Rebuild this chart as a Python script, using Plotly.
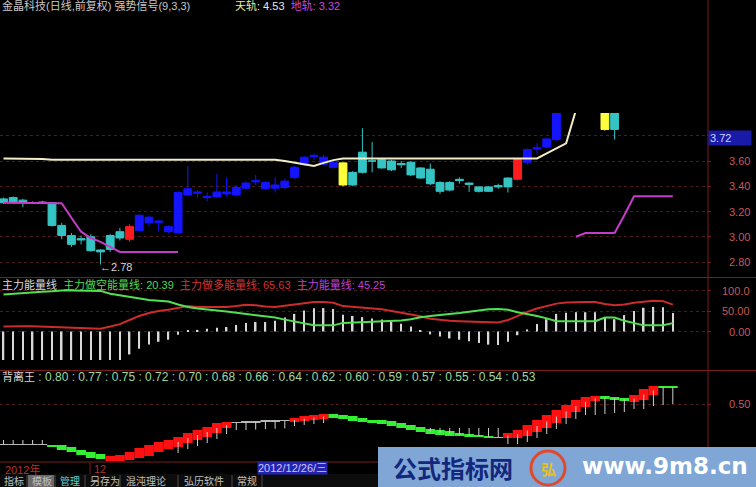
import plotly.graph_objects as go

# ---------------- DATA ----------------
bar_idx = list(range(70))

# Panel 1: candles (bars 0..63); None = not visible
candle_open = [3.30, 3.31, 3.29, 3.27, 3.275, 3.27, 3.09, 3.01, 2.985, 3.00,
               2.895, 2.90, 2.99, 2.98, 3.05, 3.155, 3.125, 3.08, 3.03, 3.33,
               3.355, 3.32, 3.315, 3.34, 3.33, 3.385, 3.445, 3.43, 3.385, 3.39,
               3.47, 3.57, 3.645, 3.63, 3.59, 3.585, 3.41, 3.51, 3.60, 3.61,
               3.60, 3.58, 3.59, 3.545, 3.535, 3.43, 3.37, 3.455, 3.425, 3.395,
               3.36, 3.405, 3.395, 3.455, 3.59, 3.705, 3.71, 3.77, None, None,
               None, None, 4.10, 3.85]
candle_close = [3.27, 3.27, 3.27, 3.27, 3.27, 3.09, 3.01, 2.94, 2.975, 2.89,
                2.88, 3.01, 3.04, 3.08, 3.17, 3.11, 3.115, 3.04, 3.35, 3.38,
                3.345, 3.31, 3.355, 3.355, 3.39, 3.425, 3.435, 3.38, 3.41, 3.44,
                3.55, 3.63, 3.635, 3.575, 3.55, 3.41, 3.51, 3.67, 3.60, 3.545,
                3.53, 3.57, 3.49, 3.465, 3.42, 3.36, 3.43, 3.445, 3.415, 3.36,
                3.395, 3.395, 3.465, 3.615, 3.69, 3.695, 3.775, 4.05, None, None,
                None, None, 3.85, 4.05]
candle_high = [3.31, 3.32, 3.30, 3.28, 3.285, 3.27, 3.11, 3.03, 3.01, 3.02,
               2.90, 3.02, 3.07, 3.10, 3.18, 3.17, 3.135, 3.09, 3.36, 3.56,
               3.37, 3.35, 3.50, 3.47, 3.41, 3.44, 3.49, 3.44, 3.47, 3.46,
               3.56, 3.64, 3.66, 3.65, 3.60, 3.59, 3.52, 3.86, 3.75, 3.62,
               3.61, 3.60, 3.60, 3.55, 3.58, 3.44, 3.44, 3.47, 3.43, 3.40,
               3.40, 3.42, 3.47, 3.62, 3.70, 3.74, 3.78, 4.08, None, None,
               None, None, 4.12, 4.08]
candle_low = [3.26, 3.26, 3.235, 3.26, 3.265, 3.08, 2.98, 2.92, 2.94, 2.88,
              2.78, 2.88, 2.97, 2.96, 3.04, 3.08, 3.04, 3.03, 3.02, 3.32,
              3.31, 3.28, 3.31, 3.32, 3.32, 3.37, 3.41, 3.37, 3.35, 3.38,
              3.46, 3.56, 3.61, 3.56, 3.54, 3.40, 3.40, 3.50, 3.51, 3.54,
              3.52, 3.545, 3.48, 3.46, 3.41, 3.34, 3.36, 3.42, 3.355, 3.35,
              3.355, 3.38, 3.35, 3.45, 3.57, 3.66, 3.70, 3.76, None, None,
              None, None, 3.84, 3.77]
candle_signal = (['teal'] * 13 + ['red'] + ['blue'] * 21 + ['yellow'] +
                 ['teal'] * 17 + ['red'] + ['blue'] * 4 + [None] * 4 +
                 ['yellow', 'teal'])

# 天轨 (upper rail) and 地轨 (lower rail)
upper_rail = [3.62, 3.62, 3.62, 3.62, 3.615, 3.61, 3.61, 3.61, 3.61, 3.61,
              3.61, 3.61, 3.61, 3.61, 3.61, 3.61, 3.61, 3.61, 3.61, 3.61,
              3.61, 3.61, 3.61, 3.61, 3.61, 3.61, 3.61, 3.61, 3.61, 3.60,
              3.587, 3.573, 3.56, 3.585, 3.607, 3.62, 3.62, 3.62, 3.62, 3.62,
              3.62, 3.62, 3.62, 3.62, 3.62, 3.62, 3.62, 3.62, 3.62, 3.62,
              3.62, 3.62, 3.62, 3.62, 3.62, 3.62, 3.66, 3.70, 3.74, 4.00,
              4.20, 4.30, 4.36, 4.40, 4.44, 4.47, 4.49, 4.51, 4.52, 4.53]
lower_rail = [3.27, 3.27, 3.27, 3.27, 3.27, 3.27, 3.265, 3.15, 3.04, 2.99,
              2.96, 2.92, 2.88, 2.88, 2.88, 2.88, 2.88, 2.88, 2.88] + [None] * 40 + \
             [3.00, 3.03, 3.03, 3.03, 3.03, 3.17, 3.32, 3.32, 3.32, 3.32, 3.32]
low_mark = 2.78
upper_last, lower_last = 4.53, 3.32
price_ticks = [2.80, 3.00, 3.20, 3.40, 3.60]
price_grid = [2.80, 3.00, 3.20, 3.40, 3.60, 3.80]
current_price = 3.72

# Panel 2: 主力能量
short_energy = [90, 92, 93, 95, 97, 98, 100, 100, 100, 100,
                99, 92, 88, 84, 80, 77, 75, 73, 66, 60,
                56, 53, 51, 49, 46, 44, 41, 38, 34, 29,
                24, 19, 15, 15, 15, 21, 22, 23, 25, 25,
                26, 27, 30, 35, 38, 40, 43, 45, 48, 51,
                54, 55, 53, 47, 43, 38, 32, 25, 25, 25,
                25, 25, 34, 34, 26, 20, 15, 15, 15, 20.39]
long_energy = [12, 13, 13, 13, 12, 11, 10, 9, 8, 7,
               7, 12, 18, 28, 38, 45, 50, 53, 58, 62,
               60, 60, 60, 60, 62, 65, 64, 61, 60, 63,
               67, 70, 72, 72, 70, 62, 60, 58, 57, 54,
               50, 46, 42, 37, 31, 28, 26, 25, 24, 23,
               22, 22, 28, 38, 48, 56, 62, 68, 71, 72,
               72, 72, 67, 64, 66, 70, 73, 75, 74, 65.63]
net_energy = [l - s for l, s in zip(long_energy, short_energy)]
energy_title_values = {"short": 20.39, "long": 65.63, "net": 45.25}
energy_ticks = [0, 50, 100]
energy_labels = ["0.00", "50.00", "100.0"]

# Panel 3: 背离王 ribbon (upper / lower edge) and signal
div_hi = [0.30, 0.30, 0.30, 0.30, 0.30, 0.295, 0.295, 0.285, 0.27, 0.26,
          0.25, 0.24, 0.245, 0.26, 0.28, 0.295, 0.31, 0.32, 0.335, 0.355,
          0.37, 0.385, 0.405, 0.41, 0.41, 0.412, 0.414, 0.416, 0.418, 0.42,
          0.43, 0.44, 0.445, 0.45, 0.45, 0.445, 0.44, 0.43, 0.42, 0.42,
          0.415, 0.405, 0.395, 0.385, 0.375, 0.37, 0.365, 0.355, 0.35, 0.345,
          0.34, 0.335, 0.355, 0.37, 0.395, 0.42, 0.445, 0.47, 0.495, 0.52,
          0.535, 0.54, 0.54, 0.535, 0.53, 0.545, 0.575, 0.59, 0.59, 0.59]
div_lo = [0.295, 0.295, 0.295, 0.295, 0.295, 0.285, 0.27, 0.26, 0.245, 0.23,
          0.225, 0.215, 0.215, 0.22, 0.23, 0.24, 0.26, 0.275, 0.285, 0.305,
          0.32, 0.335, 0.355, 0.38, 0.405, 0.407, 0.409, 0.411, 0.413, 0.415,
          0.41, 0.415, 0.42, 0.425, 0.43, 0.425, 0.415, 0.41, 0.405, 0.40,
          0.39, 0.38, 0.37, 0.36, 0.35, 0.345, 0.34, 0.34, 0.335, 0.335,
          0.3325, 0.33, 0.33, 0.33, 0.34, 0.36, 0.38, 0.405, 0.43, 0.46,
          0.485, 0.515, 0.525, 0.52, 0.515, 0.51, 0.52, 0.545, 0.58, 0.58]
div_state = (['flat'] * 5 + ['down'] * 6 + ['up'] * 13 + ['flat'] * 6 +
             ['up'] * 4 + ['down'] * 17 + ['flat'] + ['up'] * 10 +
             ['down'] * 3 + ['up'] * 3 + ['down'] * 2)
div_tick = [0.32, 0.32, 0.32, 0.32, 0.32, None, None, None, None, None,
            None, None, None, None, None, None, None, None, 0.255, 0.275,
            0.29, 0.305, 0.325, 0.35, 0.37, 0.37, 0.372, 0.374, 0.376, 0.378,
            0.39, 0.395, 0.40, 0.405, None, None, None, None, None, None,
            None, None, None, None, 0.38, 0.38, 0.38, 0.38, 0.38, 0.38,
            0.38, 0.38, 0.30, 0.30, 0.31, 0.33, 0.35, 0.375, 0.40, 0.425,
            0.445, 0.445, 0.45, 0.455, 0.46, 0.475, 0.475, 0.49, 0.495, 0.50]
div_ticks = [0.50]
div_title_values = [0.80, 0.77, 0.75, 0.72, 0.70, 0.68, 0.66, 0.64, 0.62,
                    0.60, 0.59, 0.57, 0.55, 0.54, 0.53]

tabs = ["指标", "模板", "管理", "另存为", "混沌理论", "弘历软件", "常规"]

# ---------------- STYLE / LAYOUT ----------------
W, H = 756, 487
PW = 706
CJK = "Liberation Sans, Noto Sans CJK SC, sans-serif"
SIGNAL_COLORS = {"teal": "#35c4c4", "blue": "#1414ff", "red": "#ff1c1c",
                 "yellow": "#ffff3c"}
AXC = "#7a1c1c"
LBL = "#c85858"
GRID = "#4a1c1c"


def py(y):
    return 1 - y / H


def px(x):
    return x / PW


XR = [-0.36, 72.42]
Y1 = [3.60 - (277 - 161) / 126.25, 3.60 + (161 - 113) / 126.25]
Y2 = [(331.5 - 360) / 0.41, (331.5 - 278) / 0.41]
Y3 = [2.52 - 463 / 200, 2.52 - 370 / 200]

fig = go.Figure()

# candles grouped by signal colour
groups = {}
for i, s in enumerate(candle_signal):
    if s is None or candle_open[i] is None:
        continue
    groups.setdefault(s, []).append(i)
for s, idx in groups.items():
    c = SIGNAL_COLORS[s]
    fig.add_trace(go.Candlestick(
        x=idx, open=[candle_open[i] for i in idx], high=[candle_high[i] for i in idx],
        low=[candle_low[i] for i in idx], close=[candle_close[i] for i in idx],
        increasing=dict(line=dict(color=c, width=1), fillcolor=c),
        decreasing=dict(line=dict(color=c, width=1), fillcolor=c),
        whiskerwidth=0, xaxis="x", yaxis="y", showlegend=False, hoverinfo="skip"))

fig.add_trace(go.Scatter(x=bar_idx, y=upper_rail, mode="lines",
                         line=dict(color="#f2ecc8", width=2), xaxis="x", yaxis="y",
                         showlegend=False, hoverinfo="skip"))
fig.add_trace(go.Scatter(x=bar_idx, y=lower_rail, mode="lines", connectgaps=False,
                         line=dict(color="#c43cc8", width=2), xaxis="x", yaxis="y",
                         showlegend=False, hoverinfo="skip"))

# panel 2
fig.add_trace(go.Bar(x=bar_idx, y=net_energy, width=0.16, marker=dict(color="#d8d8d8", line=dict(width=0)),
                     xaxis="x2", yaxis="y2", showlegend=False, hoverinfo="skip"))
fig.add_trace(go.Scatter(x=bar_idx, y=long_energy, mode="lines", line=dict(color="#cc2c2c", width=2),
                         xaxis="x2", yaxis="y2", showlegend=False, hoverinfo="skip"))
fig.add_trace(go.Scatter(x=bar_idx, y=short_energy, mode="lines", line=dict(color="#52e052", width=2),
                         xaxis="x2", yaxis="y2", showlegend=False, hoverinfo="skip"))

# panel 3 ticks
tx, ty = [], []
for i in bar_idx:
    if div_tick[i] is None:
        continue
    mid = (div_hi[i] + div_lo[i]) / 2
    tx += [i, i, None]
    ty += [mid, div_tick[i], None]
fig.add_trace(go.Scatter(x=tx, y=ty, mode="lines", line=dict(color="#cfcfcf", width=1),
                         xaxis="x3", yaxis="y3", showlegend=False, hoverinfo="skip"))
STATE_COLORS = {"up": "#ff1010", "down": "#34f034", "flat": "#b8b8b8"}
fig.add_trace(go.Bar(x=bar_idx, base=div_lo, y=[h - l for h, l in zip(div_hi, div_lo)],
                     width=[1.0 if s != "flat" else 1.02 for s in div_state],
                     marker=dict(color=[STATE_COLORS[s] for s in div_state], line=dict(width=0)),
                     xaxis="x3", yaxis="y3", showlegend=False, hoverinfo="skip"))

ax_common = dict(range=XR, domain=[0, 1], showgrid=False, zeroline=False,
                 showticklabels=False, showline=False, ticks="", fixedrange=True)
yax_common = dict(side="right", showgrid=True, griddash="dot", gridcolor=GRID, gridwidth=1,
                  zeroline=False, showticklabels=False, showline=False, ticks="outside",
                  ticklen=4, tickcolor=AXC, fixedrange=True)

annotations = []
# header
annotations.append(dict(xref="paper", yref="paper", x=0, y=py(6), xanchor="left", yanchor="middle",
                        text="金晶科技(日线,前复权) 强势信号(9,3,3)", showarrow=False,
                        font=dict(family=CJK, size=11, color="#c8c8c8")))
annotations.append(dict(xref="paper", yref="paper", x=px(233), y=py(6), xanchor="left", yanchor="middle",
                        text=f"<span style='color:#ecec9a'>天轨</span>: {upper_last:.2f}  "
                             f"<span style='color:#d048d8'>地轨: {lower_last:.2f}</span>",
                        showarrow=False, font=dict(family=CJK, size=11, color="#e8e8e8")))
# low mark
annotations.append(dict(x=10, y=low_mark, xref="x", yref="y", xanchor="left", yanchor="middle",
                        text=f"←{low_mark:.2f}", showarrow=False, xshift=-3, yshift=-2,
                        font=dict(family=CJK, size=11, color="#d8d8d8")))
# price labels
for v in price_ticks:
    annotations.append(dict(xref="paper", yref="y", x=px(752), y=v, xanchor="right", yanchor="middle",
                            text=f"{v:.2f}", showarrow=False, font=dict(family=CJK, size=11, color=LBL)))
annotations.append(dict(xref="paper", yref="paper", x=px(708), y=py(138), xanchor="left", yanchor="middle",
                        text=f"{current_price:.2f}", showarrow=False, bgcolor="#1a1aa8", width=40, align="left",
                        font=dict(family=CJK, size=11, color="#d0d0ff")))
# panel 2 title & labels
etv = energy_title_values
annotations.append(dict(xref="paper", yref="paper", x=0, y=py(284), xanchor="left", yanchor="middle",
                        showarrow=False, font=dict(family=CJK, size=11, color="#d8d8d8"),
                        text="主力能量线  "
                             f"<span style='color:#52d852'>主力做空能量线: {etv['short']:.2f}</span>  "
                             f"<span style='color:#d03434'>主力做多能量线: {etv['long']:.2f}</span>  "
                             f"<span style='color:#c040d0'>主力能量线: {etv['net']:.2f}</span>"))
for v, t in zip(energy_ticks, energy_labels):
    annotations.append(dict(xref="paper", yref="y2", x=px(752), y=v, xanchor="right", yanchor="middle",
                            text=t, showarrow=False, font=dict(family=CJK, size=11, color=LBL)))
# panel 3 title & labels
vals = "".join(f" : {v:.2f}" for v in div_title_values)
annotations.append(dict(xref="paper", yref="paper", x=0, y=py(377), xanchor="left", yanchor="middle",
                        showarrow=False, font=dict(family=CJK, size=12, color="#d8d8d8"),
                        text=f"<span style='font-size:11px'>背离王</span><span style='color:#9ed89e'>{vals}</span>"))
for v in div_ticks:
    annotations.append(dict(xref="paper", yref="y3", x=px(752), y=v, xanchor="right", yanchor="middle",
                            text=f"{v:.2f}", showarrow=False, font=dict(family=CJK, size=11, color=LBL)))
# date row
annotations.append(dict(xref="paper", yref="paper", x=px(3), y=py(469), xanchor="left", yanchor="middle",
                        text="2012年", showarrow=False, font=dict(family=CJK, size=11, color="#b43030")))
annotations.append(dict(xref="paper", yref="paper", x=px(92), y=py(469), xanchor="left", yanchor="middle",
                        text="12", showarrow=False, font=dict(family=CJK, size=11, color="#b43030")))
annotations.append(dict(xref="paper", yref="paper", x=px(257), y=py(468), xanchor="left", yanchor="middle",
                        text="2012/12/26/三", showarrow=False, bgcolor="#2424b0", borderpad=0,
                        font=dict(family=CJK, size=11, color="#c8c8ff")))
# tabs
tab_x = [2, 30, 58, 88, 124, 182, 235]
for t, x0 in zip(tabs, tab_x):
    col = "#5fd0d0" if t == "管理" else "#c0c0c0"
    annotations.append(dict(xref="paper", yref="paper", x=px(x0), y=py(481), xanchor="left", yanchor="middle",
                            text=t, showarrow=False, font=dict(family=CJK, size=10, color=col)))
# banner
annotations.append(dict(xref="paper", yref="paper", x=px(453), y=py(467), xanchor="center", yanchor="middle",
                        text="<b>公式指标网</b>", showarrow=False,
                        font=dict(family="Noto Sans CJK SC", size=24, color="#13287c")))
annotations.append(dict(xref="paper", yref="paper", x=px(665), y=py(466), xanchor="center", yanchor="middle",
                        text="<b>www.9m8.cn</b>", showarrow=False,
                        font=dict(family="DejaVu Sans", size=23, color="#ffffff")))
annotations.append(dict(xref="paper", yref="paper", x=px(548), y=py(468), xanchor="center", yanchor="middle",
                        text="<b>弘</b>", showarrow=False,
                        font=dict(family="Noto Sans CJK SC", size=15, color="#e8c020")))

shapes = []
def line(x0, y0, x1, y1, color=AXC, width=1):
    shapes.append(dict(type="line", xref="paper", yref="paper", x0=px(x0), y0=py(y0),
                       x1=px(x1), y1=py(y1), line=dict(color=color, width=width), layer="above"))
def rect(x0, y0, x1, y1, fill, lc=None):
    shapes.append(dict(type="rect", xref="paper", yref="paper", x0=px(x0), y0=py(y0),
                       x1=px(x1), y1=py(y1), fillcolor=fill,
                       line=dict(width=0 if lc is None else 1, color=lc or fill), layer="above"))

line(0, 277.5, 756, 277.5)
line(0, 370.5, 756, 370.5)
line(708, 0, 708, 462)
line(0, 462, 378, 462)
line(90, 462, 90, 474)
rect(0, 474, 378, 487, "#0c0c0c")
rect(28, 475, 54, 487, "#6a6a6a")
for sx in [27, 55, 85, 120, 178, 232, 262]:
    line(sx, 475, sx, 487, color="#4a4a4a")
rect(378, 447, 756, 487, "#80a6d6")
shapes.append(dict(type="circle", xref="paper", yref="paper", x0=px(531), y0=py(451), x1=px(565), y1=py(485),
                   fillcolor="rgba(0,0,0,0)", line=dict(color="#e04a2a", width=3), layer="above"))

fig.update_layout(
    width=W, height=H, margin=dict(l=0, r=W - PW, t=0, b=0),
    paper_bgcolor="#000000", plot_bgcolor="#000000",
    showlegend=False, hovermode=False, barmode="overlay",
    boxgap=0.1, boxgroupgap=0.1,
    xaxis=dict(**ax_common, anchor="y", rangeslider=dict(visible=False)),
    xaxis2=dict(**ax_common, anchor="y2"),
    xaxis3=dict(**ax_common, anchor="y3"),
    yaxis=dict(**yax_common, domain=[py(277), py(113)], range=Y1, tickvals=price_grid, anchor="x"),
    yaxis2=dict(**yax_common, domain=[py(360), py(278)], range=Y2, tickvals=energy_ticks, anchor="x2"),
    yaxis3=dict(**yax_common, domain=[py(463), py(370)], range=Y3, tickvals=div_ticks, anchor="x3"),
    annotations=annotations, shapes=shapes,
)
fig.write_html("out.html", config={"displayModeBar": False},
               post_script="document.body.style.margin='0';document.body.style.background='#000';")
